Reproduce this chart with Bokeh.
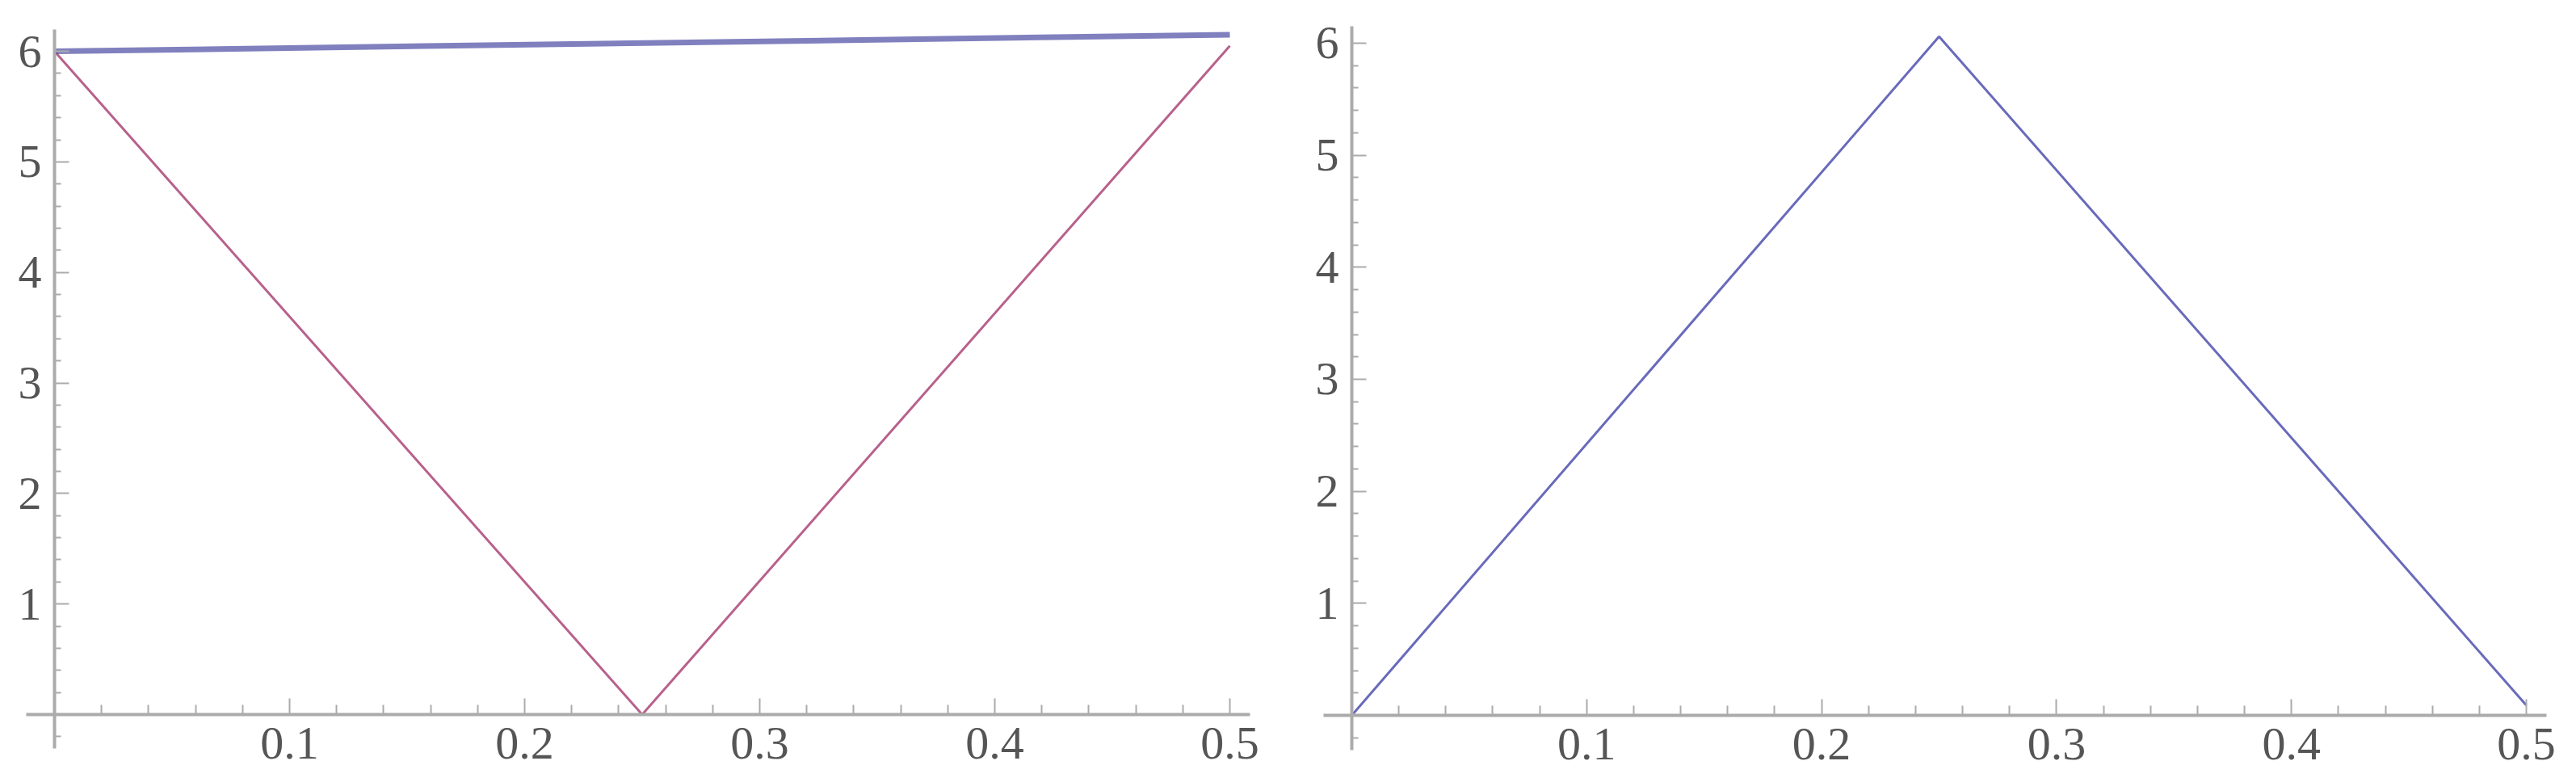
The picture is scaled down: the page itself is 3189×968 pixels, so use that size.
from bokeh.plotting import figure
from bokeh.layouts import row
from bokeh.models import FixedTicker, Range1d
from bokeh.embed import file_html
from bokeh.resources import INLINE

# ---- data ----
left_blue_x = [0.0, 0.5]
left_blue_y = [6.0, 6.15]
left_red_x = [0.0, 0.25, 0.5]
left_red_y = [6.0, 0.0, 6.05]
right_x = [0.0, 0.25, 0.5]
right_y = [0.0, 6.06, 0.09]

x_ticks = [0.1, 0.2, 0.3, 0.4, 0.5]
x_minor = [round(0.02 * i, 2) for i in range(1, 26) if i % 5 != 0]
y_ticks = [1, 2, 3, 4, 5, 6]
y_minor = [round(0.2 * i, 1) for i in range(-1, 31) if i % 5 != 0]

FONT = "Liberation Serif"
LABEL_COLOR = "#555555"
AXIS_COLOR = "#ababab"


def style(p, xb, yb):
    p.grid.visible = False
    p.outline_line_color = None
    p.background_fill_color = "white"
    p.border_fill_color = "white"
    for ax in (p.xaxis[0], p.yaxis[0]):
        ax.fixed_location = 0
        ax.axis_line_color = AXIS_COLOR
        ax.axis_line_width = 4
        ax.major_tick_line_color = AXIS_COLOR
        ax.minor_tick_line_color = AXIS_COLOR
        ax.major_tick_line_width = 2
        ax.minor_tick_line_width = 2
        ax.major_tick_out = 0
        ax.minor_tick_out = 0
        ax.major_label_text_font = FONT
        ax.major_label_text_font_size = "58px"
        ax.major_label_text_color = LABEL_COLOR
    p.xaxis[0].bounds = xb
    p.yaxis[0].bounds = yb
    p.xaxis[0].ticker = FixedTicker(ticks=x_ticks, minor_ticks=x_minor)
    p.yaxis[0].ticker = FixedTicker(ticks=y_ticks, minor_ticks=y_minor)
    p.xaxis[0].major_tick_in = 20
    p.xaxis[0].minor_tick_in = 12
    p.yaxis[0].major_tick_in = 18
    p.yaxis[0].minor_tick_in = 8
    p.xaxis[0].major_label_standoff = 16
    p.yaxis[0].major_label_standoff = 16


common = dict(output_backend="svg", toolbar_location=None,
              min_border_left=0, min_border_right=0, min_border_top=0, min_border_bottom=0)

p1 = figure(width=1600, height=952,
            x_range=Range1d(-0.02302, 0.5268), y_range=Range1d(-0.497, 6.461), **common)
style(p1, (-0.012, 0.5086), (-0.31, 6.2))
p1.line(left_red_x, left_red_y, line_color="#b0507e", line_width=3, line_alpha=0.9)
p1.line(left_blue_x, left_blue_y, line_color="#3c3c9c", line_width=7, line_alpha=0.65)

p2 = figure(width=1568, height=952,
            x_range=Range1d(-0.0251, 0.5141), y_range=Range1d(-0.483, 6.382), **common)
style(p2, (-0.012, 0.5086), (-0.31, 6.15))
p2.line(right_x, right_y, line_color="#5a5ab4", line_width=3, line_alpha=0.9)

layout = row(p1, p2)
open("out.html", "w").write(file_html(layout, INLINE))
